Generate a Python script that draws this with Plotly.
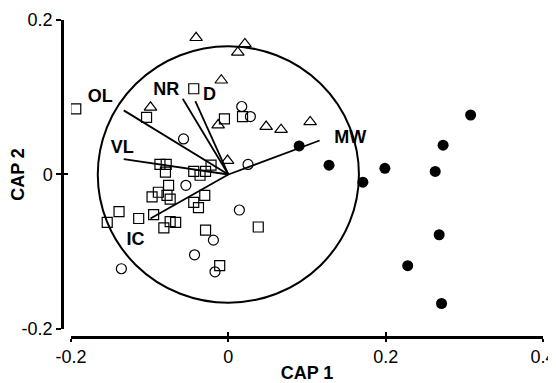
import plotly.graph_objects as go

# ---- data ----
mw_x = [0.090, 0.128, 0.171, 0.199, 0.263, 0.273, 0.308, 0.268, 0.228, 0.271]
mw_y = [0.037, 0.012, -0.010, 0.008, 0.004, 0.038, 0.077, -0.078, -0.118, -0.167]

tri_x = [-0.041, 0.012, 0.021, -0.009, -0.013, 0.048, 0.067, 0.104, -0.001, -0.099]
tri_y = [0.177, 0.158, 0.169, 0.122, 0.064, 0.062, 0.058, 0.068, 0.018, 0.087]

circ_x = [0.017, 0.028, -0.057, 0.025, -0.054, 0.014, -0.019, -0.043, -0.017, -0.136]
circ_y = [0.088, 0.075, 0.046, 0.013, -0.014, -0.046, -0.085, -0.104, -0.126, -0.122]

sq_x = [-0.194, -0.044, -0.104, -0.005, 0.018,
        -0.087, -0.079, -0.080, -0.044, -0.036, -0.029, -0.022,
        -0.076, -0.097, -0.089, -0.078, -0.074, -0.030, -0.044, -0.038,
        -0.139, -0.154, -0.114, -0.095,
        -0.074, -0.067, -0.082, -0.029, -0.011, 0.038]
sq_y = [0.085, 0.111, 0.074, 0.072, 0.075,
        0.013, 0.013, 0.003, 0.004, -0.001, 0.004, 0.012,
        -0.014, -0.029, -0.023, -0.027, -0.032, -0.027, -0.036, -0.043,
        -0.048, -0.062, -0.057, -0.052,
        -0.061, -0.062, -0.069, -0.072, -0.118, -0.068]

vec_names = ["MW", "OL", "VL", "NR", "D", "IC"]
vec_x = [0.116, -0.133, -0.133, -0.058, -0.042, -0.099]
vec_y = [0.044, 0.083, 0.020, 0.098, 0.095, -0.057]
lab_x = [0.155, -0.163, -0.135, -0.079, -0.024, -0.118]
lab_y = [0.046, 0.100, 0.034, 0.109, 0.102, -0.085]

circle_r = 0.166

x_ticks = [-0.2, 0, 0.2, 0.4]
x_ticktext = ["-0.2", "0", "0.2", "0.4"]
y_ticks = [-0.2, 0, 0.2]
y_ticktext = ["-0.2", "0", "0.2"]
x_range = [-0.2, 0.4]
y_range = [-0.2, 0.2]

FONT = "Liberation Sans, Arial, sans-serif"

# vector segments from origin
seg_x, seg_y = [], []
for vx, vy in zip(vec_x, vec_y):
    seg_x += [0, vx, None]
    seg_y += [0, vy, None]

fig = go.Figure()
fig.add_trace(go.Scatter(x=seg_x, y=seg_y, mode="lines",
                         line=dict(color="black", width=1.8), hoverinfo="skip"))
fig.add_trace(go.Scatter(x=sq_x, y=sq_y, mode="markers",
                         marker=dict(symbol="square-open", size=10, color="black",
                                     line=dict(width=1.2, color="black"))))
fig.add_trace(go.Scatter(x=tri_x, y=tri_y, mode="markers",
                         marker=dict(symbol="triangle-up-open", size=11, color="black",
                                     line=dict(width=1.2, color="black"))))
fig.add_trace(go.Scatter(x=circ_x, y=circ_y, mode="markers",
                         marker=dict(symbol="circle-open", size=10, color="black",
                                     line=dict(width=1.2, color="black"))))
fig.add_trace(go.Scatter(x=mw_x, y=mw_y, mode="markers",
                         marker=dict(symbol="circle", size=11, color="black")))
fig.add_trace(go.Scatter(x=lab_x, y=lab_y, mode="text", text=vec_names,
                         textfont=dict(family=FONT, size=18, color="black", weight="bold"),
                         textposition="middle center"))
# dummy trace for the overlay axes (inner half of crossing ticks)
fig.add_trace(go.Scatter(x=[None], y=[None], xaxis="x2", yaxis="y2",
                         mode="markers", showlegend=False))

fig.add_shape(type="circle", xref="x", yref="y",
              x0=-circle_r, x1=circle_r, y0=-circle_r, y1=circle_r,
              line=dict(color="black", width=2))

x_dom = [0.0188, 1.0]
y_dom = [0.0253, 1.0]
axis_font = dict(family=FONT, size=18, color="black")

# page body has an 8px margin: figure is sized to fill the rest of the 556x383 window
fig.update_layout(
    width=548, height=375,
    margin=dict(l=54, r=13, t=11.5, b=46),
    paper_bgcolor="white", plot_bgcolor="white",
    showlegend=False,
    xaxis=dict(domain=x_dom, range=x_range, anchor="free", position=0,
               tickmode="array", tickvals=x_ticks, ticktext=x_ticktext,
               ticks="outside", ticklen=3, tickwidth=1.5, tickcolor="black",
               showline=True, linecolor="black", linewidth=2.5,
               showgrid=False, zeroline=False, automargin=False,
               tickfont=axis_font,
               title=dict(text="<b>CAP 1</b>", font=dict(family=FONT, size=18, color="black"),
                          standoff=0)),
    yaxis=dict(domain=y_dom, range=y_range, anchor="free", position=0,
               tickmode="array", tickvals=y_ticks, ticktext=y_ticktext,
               ticks="outside", ticklen=5, tickwidth=1.5, tickcolor="black",
               showline=True, linecolor="black", linewidth=2.5,
               showgrid=False, zeroline=False, automargin=False,
               tickfont=axis_font,
               title=dict(text="<b>CAP 2</b>", font=dict(family=FONT, size=18, color="black"),
                          standoff=4)),
    xaxis2=dict(domain=x_dom, range=x_range, overlaying="x", anchor="free", position=0,
                tickmode="array", tickvals=x_ticks, ticks="inside", ticklen=5,
                tickwidth=1.5, tickcolor="black", showticklabels=False,
                showline=False, showgrid=False, zeroline=False),
    yaxis2=dict(domain=y_dom, range=y_range, overlaying="y", anchor="free", position=0,
                tickmode="array", tickvals=y_ticks, ticks="inside", ticklen=5,
                tickwidth=1.5, tickcolor="black", showticklabels=False,
                showline=False, showgrid=False, zeroline=False),
)

fig.write_html("out.html")
